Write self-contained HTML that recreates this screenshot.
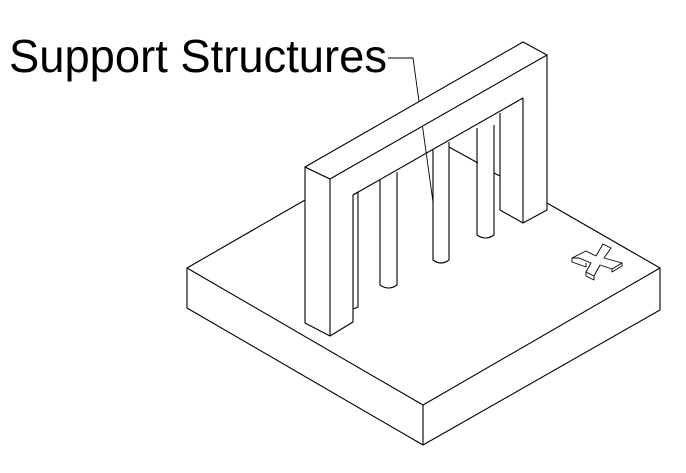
<!DOCTYPE html>
<html><head><style>html,body{margin:0;padding:0;background:#fff}svg{display:block}</style></head>
<body>
<svg width="686" height="473" viewBox="0 0 686 473" xmlns="http://www.w3.org/2000/svg">
<text x="9" y="72" font-family="'Liberation Sans', sans-serif" font-size="46" textLength="378" lengthAdjust="spacingAndGlyphs" fill="#000">Support Structures</text>
<g fill="none" stroke="#000" stroke-width="1.1" stroke-linejoin="round">
<!-- leader -->
<polyline points="388,58 413,58 433,202" stroke-width="0.9"/>
<!-- base -->
<polyline points="305,200 187,268 423,405 660,268 547,203"/>
<polyline points="187,268 187,308 423,445 660,310 660,268"/>
<line x1="423" y1="405" x2="423" y2="445"/>
<!-- hidden-ish lines behind -->
<polyline points="449,147 478,163"/>
<polyline points="494,173 500,176"/>
<!-- cylinders -->
<path d="M380,180 L380,285 Q388.5,291 397,285 L397,172"/>
<path d="M433,150 L433,260 Q441,266 449,260 L449,142"/>
<path d="M477,128 L477,235 Q485.5,241 494,235 L494,125"/>
<!-- small cylinder near left pillar -->
<path d="M353,195 L358,192 L358,307 L353,309"/>
<!-- arch left pillar -->
<polygon points="305,167 330,179 330,336 305,323" fill="#fff"/>
<polyline points="330,336 353,322 353,195"/>
<!-- top beam -->
<polygon points="305,167 523,42 547,55 330,179" fill="#fff"/>
<polyline points="547,55 547,210 523,223 523,98 353,195"/>
<polyline points="500,113 500,210 523,223"/>
<!-- X marker -->
<polygon points="572,258 586,251 596,256 603,244 611,248 604,258 622,263 612,269 600,265 594,276 586,272 591,263 579,258" fill="#fff" stroke-width="0.9"/>
<polyline points="572,258 572,262 586,267 586,263" stroke-width="0.9"/>
<polyline points="586,272 586,276 594,280 594,276" stroke-width="0.9"/>
<polyline points="622,263 622,266 612,272 612,269" stroke-width="0.9"/>
</g>
</svg>
</body></html>
